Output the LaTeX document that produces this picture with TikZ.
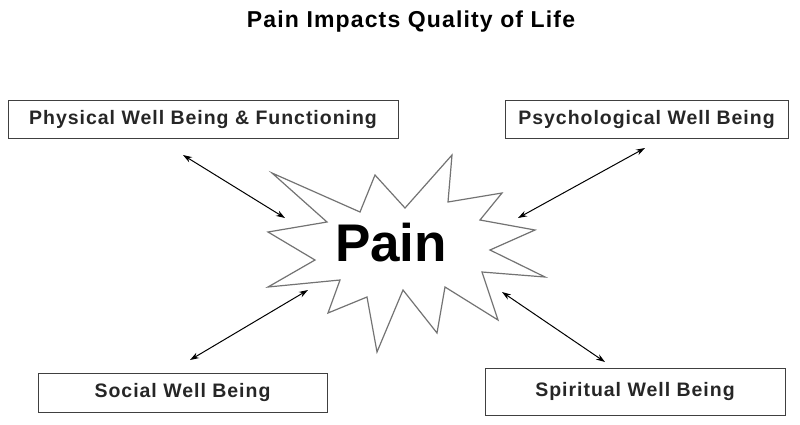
\documentclass[tikz,border=0pt]{standalone}
\usepackage{fontspec}
\setmainfont{Liberation Sans}
\newfontfamily\spaced[LetterSpace=5]{Liberation Sans}
\usetikzlibrary{arrows.meta}
\begin{document}
\begin{tikzpicture}[x=1pt,y=-1pt,
  box/.style={draw=black!75,line width=1pt,inner sep=0pt,text=black!85,font=\spaced\bfseries\fontsize{19.5}{22}\selectfont},
  link/.style={{Stealth[length=9pt,width=6pt]}-{Stealth[length=9pt,width=6pt]},line width=1pt}]
\useasboundingbox (0,0) rectangle (800,424);
\node[font=\spaced\bfseries\fontsize{23}{26}\selectfont] (title) at (411,22) {Pain Impacts Quality of Life};
\node[box,minimum width=390pt,minimum height=38pt] (phys) at (203,119) {Physical Well Being \& Functioning};
\node[box,minimum width=283pt,minimum height=38pt] (psy) at (646.5,119) {Psychological Well Being};
\node[box,minimum width=289pt,minimum height=39pt] (soc) at (182.5,392.5) {Social Well Being};
\node[box,minimum width=300pt,minimum height=47pt] (spi) at (635,391.5) {Spiritual Well Being};
\draw[draw=black!55,line width=1.2pt,fill=white] (272,173)--(360,212)--(375,175)--(405,208)--(452,155)--(448,202)--(502,193)--(480,220)--(535,230)--(490,250)--(545,277)--(482,272)--(498,320)--(445,287)--(437,333)--(403,290)--(377,352)--(367,297)--(328,313)--(340,280)--(268,287)--(315,260)--(268,232)--(327,222)--cycle;
\node[font=\bfseries\fontsize{53}{56}\selectfont] (pain) at (391,243) {Pain};
\coordinate (a1) at (183,155); \coordinate (a2) at (285,218);
\coordinate (b1) at (645,148); \coordinate (b2) at (518,218);
\coordinate (c1) at (190,360); \coordinate (c2) at (308,290);
\coordinate (d1) at (605,362); \coordinate (d2) at (502,292);
\draw[link] (a1)--(a2);
\draw[link] (b1)--(b2);
\draw[link] (c1)--(c2);
\draw[link] (d1)--(d2);
\end{tikzpicture}
\end{document}
